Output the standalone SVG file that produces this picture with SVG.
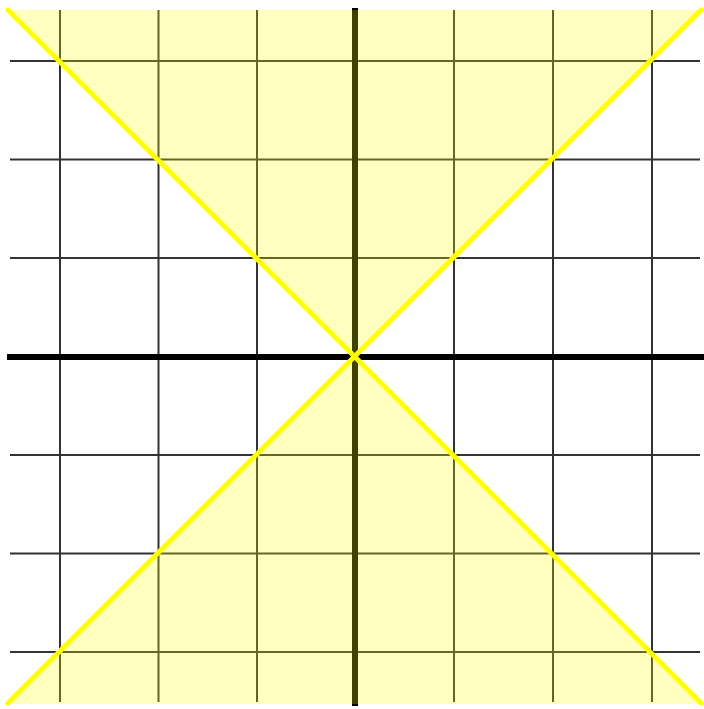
<svg xmlns="http://www.w3.org/2000/svg" width="704" height="709" viewBox="0 0 704 709">
<style>
.grid{stroke:#333;stroke-width:2}
.axis{stroke:#000;stroke-width:6}
.fill{fill:#ffff00;fill-opacity:0.25}
.diag{stroke:#ffff00;stroke-width:5;stroke-linecap:round}
</style>
<rect width="704" height="709" fill="#fff"/>
<g id="grid">
<line class="grid" x1="60" y1="10" x2="60" y2="702"/>
<line class="grid" x1="158.5" y1="10" x2="158.5" y2="702"/>
<line class="grid" x1="257" y1="10" x2="257" y2="702"/>
<line class="grid" x1="454" y1="10" x2="454" y2="702"/>
<line class="grid" x1="553" y1="10" x2="553" y2="702"/>
<line class="grid" x1="652" y1="10" x2="652" y2="702"/>
<line class="grid" x1="10" y1="61" x2="700" y2="61"/>
<line class="grid" x1="10" y1="159.5" x2="700" y2="159.5"/>
<line class="grid" x1="10" y1="258" x2="700" y2="258"/>
<line class="grid" x1="10" y1="455" x2="700" y2="455"/>
<line class="grid" x1="10" y1="553.5" x2="700" y2="553.5"/>
<line class="grid" x1="10" y1="652" x2="700" y2="652"/>
</g>
<g id="axes">
<line class="axis" x1="7" y1="357" x2="704" y2="357"/>
<line class="axis" x1="355" y1="8" x2="355" y2="706"/>
</g>
<g id="regions">
<polygon class="fill" points="8,10 702,10 355,357"/>
<polygon class="fill" points="8,704 702,704 355,357"/>
</g>
<g id="diagonals">
<line class="diag" x1="8" y1="10" x2="701" y2="703"/>
<line class="diag" x1="701" y1="10" x2="8" y2="703"/>
</g>
</svg>
